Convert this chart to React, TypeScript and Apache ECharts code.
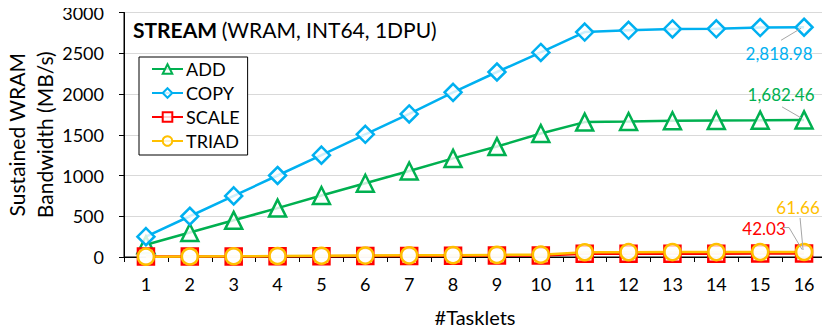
import React, { useEffect, useRef } from "react";
import * as echarts from "echarts";

const tasklets = ["1", "2", "3", "4", "5", "6", "7", "8", "9", "10", "11", "12", "13", "14", "15", "16"];
const addValues = [150, 300, 450, 600, 755, 905, 1055, 1210, 1355, 1515, 1655, 1662, 1672, 1676, 1679, 1682.46];
const copyValues = [250, 500, 750, 1000, 1250, 1505, 1755, 2020, 2270, 2510, 2760, 2782, 2798, 2800, 2815, 2818.98];
const scaleValues = [5, 6, 7, 8, 10, 12, 13, 15, 17, 18, 40, 40, 41, 41, 42, 42.03];
const triadValues = [4, 6, 9, 12, 15, 17, 20, 23, 26, 29, 58, 59, 60, 60, 61, 61.66];
const yTicks = { min: 0, max: 3000, interval: 500 };

const FONT = "Lato";
const GREEN = "#00B050";
const BLUE = "#00B0F0";
const RED = "#FF0000";
const ORANGE = "#FFC000";

function fmt(v: number) {
  return v.toLocaleString("en-US", { minimumFractionDigits: 2, maximumFractionDigits: 2 });
}

function makeSeries(
  name: string,
  values: number[],
  color: string,
  symbol: string,
  size: number,
  dx: number,
  dy: number
) {
  const last = values.length - 1;
  return {
    name,
    type: "line",
    data: values.map((v, i) =>
      i === last
        ? {
            value: v,
            label: {
              show: true,
              formatter: () => fmt(v),
              color,
              fontFamily: FONT,
              fontSize: 17,
              position: "inside",
            },
          }
        : v
    ),
    symbol,
    symbolSize: size,
    lineStyle: { color, width: 2.5 },
    itemStyle: { color: "rgba(255,255,255,0.8)", borderColor: color, borderWidth: 2.5 },
    labelLayout: (p: any) => (p.dataIndex === last ? { dx, dy } : {}),
    emphasis: { disabled: true },
  };
}

// leader-line offsets (pixels, relative to the last data point)
const leaders: number[][][] = [
  [[-22, -13], [-3, -2]],
  [[-23, 13], [-3, 1]],
  [[-21, -26], [-15, -26], [-2, -4]],
  [[-4, -34], [-1, -2]],
];

export default function App() {
  const ref = useRef<HTMLDivElement>(null);
  useEffect(() => {
    if (!ref.current) return;
    const chart = echarts.init(ref.current, null, { renderer: "svg" });
    const allSeries = [addValues, copyValues, scaleValues, triadValues];
    chart.setOption({
      animation: false,
      backgroundColor: "#fff",
      textStyle: { fontFamily: FONT },
      title: {
        left: 128,
        top: 14,
        text: "{b|STREAM} {n|(WRAM, INT64, 1DPU)}",
        textStyle: {
          fontWeight: "normal",
          rich: {
            b: { fontFamily: FONT, fontWeight: "bold", fontSize: 21, color: "#000" },
            n: { fontFamily: FONT, fontWeight: "normal", fontSize: 21, color: "#000" },
          },
        },
      },
      legend: {
        orient: "vertical",
        left: 139,
        top: 57,
        itemWidth: 31,
        itemHeight: 12,
        itemGap: 6,
        padding: [3, 8, 5, 12],
        borderColor: "#000",
        borderWidth: 1,
        backgroundColor: "#fff",
        textStyle: { fontFamily: FONT, fontSize: 18, color: "#000", padding: [0, 0, 0, -2] },
        data: ["ADD", "COPY", "SCALE", "TRIAD"],
      },
      grid: {
        left: 124,
        right: 4,
        top: 12.5,
        bottom: 76,
        show: true,
        borderColor: "#000",
        borderWidth: 1,
        containLabel: false,
        outerBoundsMode: "none",
      },
      xAxis: {
        type: "category",
        data: tasklets,
        boundaryGap: true,
        name: "#Tasklets",
        nameLocation: "middle",
        nameGap: 50,
        nameMoveOverlap: false,
        nameTextStyle: { fontFamily: FONT, fontSize: 20, color: "#000" },
        axisLine: { lineStyle: { color: "#000", width: 1 } },
        axisTick: { show: true, length: 5, lineStyle: { color: "#000" } },
        axisLabel: { fontFamily: FONT, fontSize: 18, color: "#000", margin: 18 },
      },
      yAxis: {
        type: "value",
        min: yTicks.min,
        max: yTicks.max,
        interval: yTicks.interval,
        name: "Sustained WRAM\nBandwidth (MB/s)",
        nameLocation: "middle",
        nameGap: 66,
        nameMoveOverlap: false,
        nameTextStyle: { fontFamily: FONT, fontSize: 21, color: "#000", lineHeight: 28 },
        axisLine: { show: true, lineStyle: { color: "#000", width: 1 } },
        axisTick: { show: true, length: 5, lineStyle: { color: "#000" } },
        axisLabel: {
          fontFamily: FONT,
          fontSize: 18,
          color: "#000",
          margin: 20,
          formatter: (v: number) => String(v),
        },
        splitLine: { lineStyle: { color: "#D9D9D9", width: 1 } },
      },
      series: [
        makeSeries("ADD", addValues, GREEN, "triangle", 17, -23, -25),
        makeSeries("COPY", copyValues, BLUE, "diamond", 17, -25, 26),
        makeSeries("SCALE", scaleValues, RED, "rect", 16, -40, -25),
        makeSeries("TRIAD", triadValues, ORANGE, "circle", 16, -6, -44),
      ],
    });
    const graphics = allSeries.map((vals, si) => {
      const last = vals.length - 1;
      const p = chart.convertToPixel({ seriesIndex: si }, [last, vals[last]]) as number[];
      return {
        type: "polyline",
        silent: true,
        z: 10,
        shape: { points: leaders[si].map(([dx, dy]) => [p[0] + dx, p[1] + dy]) },
        style: { stroke: "#A6A6A6", lineWidth: 1, fill: "none" },
      };
    });
    chart.setOption({ graphic: graphics });
    return () => chart.dispose();
  }, []);
  return <div ref={ref} style={{ width: 830, height: 333, margin: -8 }} />;
}
